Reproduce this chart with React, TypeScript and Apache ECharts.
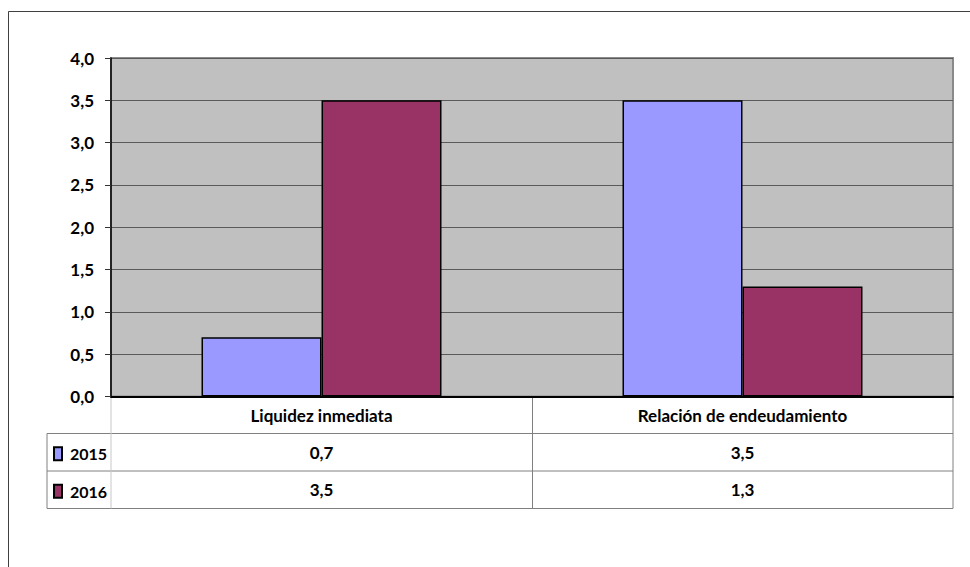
import React, { useEffect, useRef } from "react";
import * as echarts from "echarts";

const categories = ["Liquidez inmediata", "Relación de endeudamiento"];
const seriesNames = ["2015", "2016"];
const values2015 = [0.7, 3.5];
const values2016 = [3.5, 1.3];
const yTicks = { min: 0, max: 4, interval: 0.5 };

const fmt = (v: number) => v.toFixed(1).replace(".", ",");

export default function App() {
  const ref = useRef<HTMLDivElement>(null);
  useEffect(() => {
    if (!ref.current) return;
    const chart = echarts.init(ref.current, null, { renderer: "svg" });
    const W = 970;
    const H = 567;
    const gl = 111, gr = 953, gt = 58, gb = 396.5;
    const rowH = 37.3;
    const r1 = 433.5, r2 = 471, r3 = 508.5;
    const mid = 532.5;
    const font = "Lato, 'Open Sans', sans-serif";
    const fs = 17;
    const lineStyle = { stroke: "#808080", lineWidth: 1 };
    const lightStyle = { stroke: "#c8c8c8", lineWidth: 1 };
    const hl = (y: number, x1: number, x2: number, s = lineStyle) => ({
      type: "line",
      shape: { x1, y1: y, x2, y2: y },
      style: s,
      silent: true,
    });
    const vl = (x: number, y1: number, y2: number, s = lineStyle) => ({
      type: "line",
      shape: { x1: x, y1, x2: x, y2 },
      style: s,
      silent: true,
    });
    const legendBase = {
      orient: "vertical",
      left: 53,
      itemWidth: 8,
      itemHeight: 13,
      icon: "rect",
      padding: 0,
      textStyle: {
        fontFamily: font,
        fontWeight: "bold",
        fontSize: 16,
        lineHeight: 13,
        color: "#000",
        padding: [0, 0, 0, 3],
      },
    };
    chart.setOption({
      animation: false,
      textStyle: { fontFamily: font },
      grid: {
        left: gl,
        right: W - gr,
        top: gt,
        bottom: H - gb,
        show: true,
        backgroundColor: "#C0C0C0",
        borderColor: "#8a8a8a",
        borderWidth: 2,
      },
      legend: [
        { ...legendBase, top: (r1 + r2) / 2 - 6.5, data: [seriesNames[0]] },
        { ...legendBase, top: (r2 + r3) / 2 - 6.5, data: [seriesNames[1]] },
      ],
      xAxis: {
        type: "category",
        data: categories,
        axisLine: { show: true, lineStyle: { color: "#000", width: 2 } },
        axisTick: { show: false },
        splitLine: { show: false },
        axisLabel: {
          margin: 0,
          interval: 0,
          formatter: (value: string, index: number) =>
            `{c|${value}}\n{v|${fmt(values2015[index])}}\n{v|${fmt(values2016[index])}}`,
          rich: {
            c: { fontFamily: font, fontWeight: "bold", fontSize: fs, color: "#000", lineHeight: rowH },
            v: { fontFamily: font, fontWeight: "bold", fontSize: fs, color: "#000", lineHeight: rowH },
          },
        },
      },
      yAxis: {
        type: "value",
        min: yTicks.min,
        max: yTicks.max,
        interval: yTicks.interval,
        axisLine: { show: true, lineStyle: { color: "#000", width: 1.5 } },
        axisTick: { show: true, length: 6, lineStyle: { color: "#333" } },
        splitLine: { show: true, lineStyle: { color: "#5a5a5a", width: 1 } },
        axisLabel: {
          formatter: (v: number) => fmt(v),
          fontFamily: font,
          fontWeight: "bold",
          fontSize: fs,
          color: "#000",
          margin: 17,
        },
      },
      series: [
        {
          name: seriesNames[0],
          type: "bar",
          data: values2015,
          barWidth: 120,
          barGap: "0%",
          itemStyle: { color: "#9999FF", borderColor: "#000", borderWidth: 1.5 },
        },
        {
          name: seriesNames[1],
          type: "bar",
          data: values2016,
          barWidth: 120,
          barGap: "0%",
          itemStyle: { color: "#993366", borderColor: "#000", borderWidth: 1.5 },
        },
      ],
      graphic: [
        {
          type: "rect",
          shape: { x: 8.5, y: 11.5, width: 1200, height: 1200 },
          style: { fill: "none", stroke: "#404040", lineWidth: 1 },
          silent: true,
        },
        hl(r1, 47, gr),
        hl(r2, 47, gr),
        hl(r3, 47, gr),
        vl(47, r1, r3),
        vl(gl, gb, r3, lightStyle),
        vl(mid, gb, r3),
        vl(gr, gb, r3),
      ],
    });
    return () => chart.dispose();
  }, []);
  return (
    <div
      ref={ref}
      style={{ position: "fixed", left: 0, top: 0, width: 970, height: 567, background: "#fff" }}
    />
  );
}
